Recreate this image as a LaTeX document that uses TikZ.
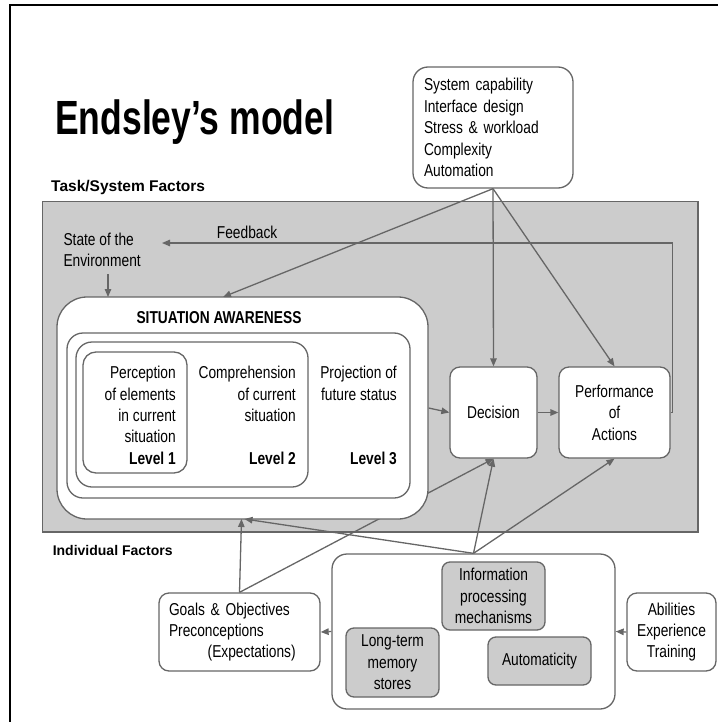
\documentclass[tikz,border=0pt]{standalone}
\usepackage{fontspec}
\setmainfont{Liberation Sans}
\newfontfamily\narrowfont{Liberation Sans}[FakeStretch=0.80]
\newfontfamily\titlefont{Liberation Sans}[FakeStretch=0.74]
\usetikzlibrary{arrows.meta}
\definecolor{edgegray}{HTML}{666666}
\definecolor{panelgray}{HTML}{CCCCCC}

\tikzset{
  rbox/.style={draw=edgegray, line width=1.3pt, fill=white, inner sep=0pt,
    rounded corners=#1, align=center,
    font=\narrowfont\fontsize{17.2}{21.4}\selectfont},
  rbox/.default=10pt,
  gbox/.style={rbox=8pt, fill=panelgray},
  txt/.style={inner sep=0pt, font=\narrowfont\fontsize{17.2}{21.4}\selectfont},
  lvl/.style={inner sep=0pt, font=\narrowfont\bfseries\fontsize{17.2}{21.4}\selectfont},
  hdr/.style={inner sep=0pt, anchor=base west},
  arr/.style={draw=edgegray, line width=1.3pt, -{Triangle[length=8pt,width=6.5pt]}},
  link/.style={draw=edgegray, line width=1.3pt},
}

\begin{document}
\begin{tikzpicture}[x=1pt,y=-1pt]
\useasboundingbox (0,0) rectangle (718,722);

% page frame
\draw[line width=2pt] (10,722) -- (10,5.5) -- (718,5.5);

% headings
\node[hdr, font=\titlefont\bfseries\fontsize{48}{52}\selectfont] (title) at (55,135) {Endsley’s model};
\node[hdr, font=\bfseries\fontsize{15.5}{18}\selectfont] (taskhd) at (51,191) {Task/System Factors};
\node[hdr, font=\bfseries\fontsize{14}{17}\selectfont] (indhd) at (52.6,555) {Individual Factors};

% task/system factors
\node[rbox=15pt, minimum width=160pt, minimum height=121pt, text width=138pt, align=left]
  (sys) at (493,127.5) {System capability\\Interface design\\Stress \& workload\\Complexity\\Automation};

% task environment panel
\draw[fill=panelgray, draw=edgegray, line width=1.3pt] (42.5,201.5) rectangle (698,532);

\node[txt, anchor=base west] (fbtxt) at (216.7,238) {Feedback};
\node[txt, anchor=north west, align=left] (env) at (63.3,232.7) {State of the\\Environment};

% decision and action
\node[rbox, minimum width=87pt, minimum height=91pt] (dec) at (493.5,412.5) {Decision};
\node[rbox, minimum width=111pt, minimum height=91pt] (perf) at (614.5,412.5) {Performance\\of\\Actions};

% individual factors
\node[rbox=15pt, minimum width=283pt, minimum height=155pt] (pool) at (473.5,631.5) {};
\node[rbox, minimum width=161pt, minimum height=78pt, text width=141pt, align=left]
  (goals) at (239.5,632) {Goals \& Objectives\\Preconceptions\\\hspace*{38.7pt}(Expectations)};
\node[rbox, minimum width=89pt, minimum height=78pt] (abil) at (671.5,632) {Abilities\\Experience\\Training};
\node[gbox, minimum width=103pt, minimum height=68pt] (info) at (493.5,596) {Information\\processing\\mechanisms};
\node[gbox, minimum width=93pt, minimum height=69pt] (ltm) at (392.5,662.5) {Long-term\\memory\\stores};
\node[gbox, minimum width=103pt, minimum height=48pt] (auto) at (539.5,661) {Automaticity};

% goals feed the decision (runs behind the SA block)
\draw[arr] (goals.north) -- (dec.south);

% situation awareness block
\node[rbox=30pt, minimum width=371pt, minimum height=222pt] (sa) at (242.5,408) {};
\node[rbox=16pt, minimum width=343pt, minimum height=165pt] (l3) at (238.5,415.5) {};
\node[rbox=16pt, minimum width=232pt, minimum height=145pt] (l2) at (192,414.5) {};
\node[rbox=13pt, minimum width=104pt, minimum height=121pt] (l1) at (135,412.5) {};

\node[lvl, anchor=base] (satxt) at (219,323.3) {SITUATION AWARENESS};
\node[txt, anchor=north east, align=right] (l1txt) at (176,366) {Perception\\of elements\\in current\\situation};
\node[txt, anchor=north east, align=right] (l2txt) at (296,366) {Comprehension\\of current\\situation};
\node[txt, anchor=north east, align=right] (l3txt) at (397,366) {Projection of\\future status};
\node[lvl, anchor=base east] (lv1) at (176,464) {Level 1};
\node[lvl, anchor=base east] (lv2) at (296,464) {Level 2};
\node[lvl, anchor=base east] (lv3) at (397,464) {Level 3};

% connector end points on the SA block
\coordinate (saTopEnv) at (108,297);
\coordinate (saTopSys) at (223,297);
\coordinate (saBotGoal) at (241.5,519);
\coordinate (saBotPool) at (244.5,519);
\coordinate (fbEnd) at (162,243);

% connectors
\draw[arr] (perf.east) -- ++(1.5,0) |- (fbEnd);
\draw[arr, shorten <=7pt] (env.south -| saTopEnv) -- (saTopEnv);
\draw[arr] (sys.south) -- (saTopSys);
\draw[arr] (sys.south) -- (dec.north);
\draw[arr] (sys.south) -- (perf.north);
\draw[arr] (sa.east) -- (dec.west);
\draw[arr] (dec.east) -- (perf.west);
\draw[arr] (goals.north) -- (saBotGoal);
\draw[arr] (pool.north) -- (saBotPool);
\draw[arr] (pool.north) -- (dec.south);
\draw[arr] (pool.north) -- (perf.south);
\draw[arr] (pool.west) -- (goals.east);
\draw[arr] (abil.west) -- (pool.east);
\end{tikzpicture}
\end{document}
